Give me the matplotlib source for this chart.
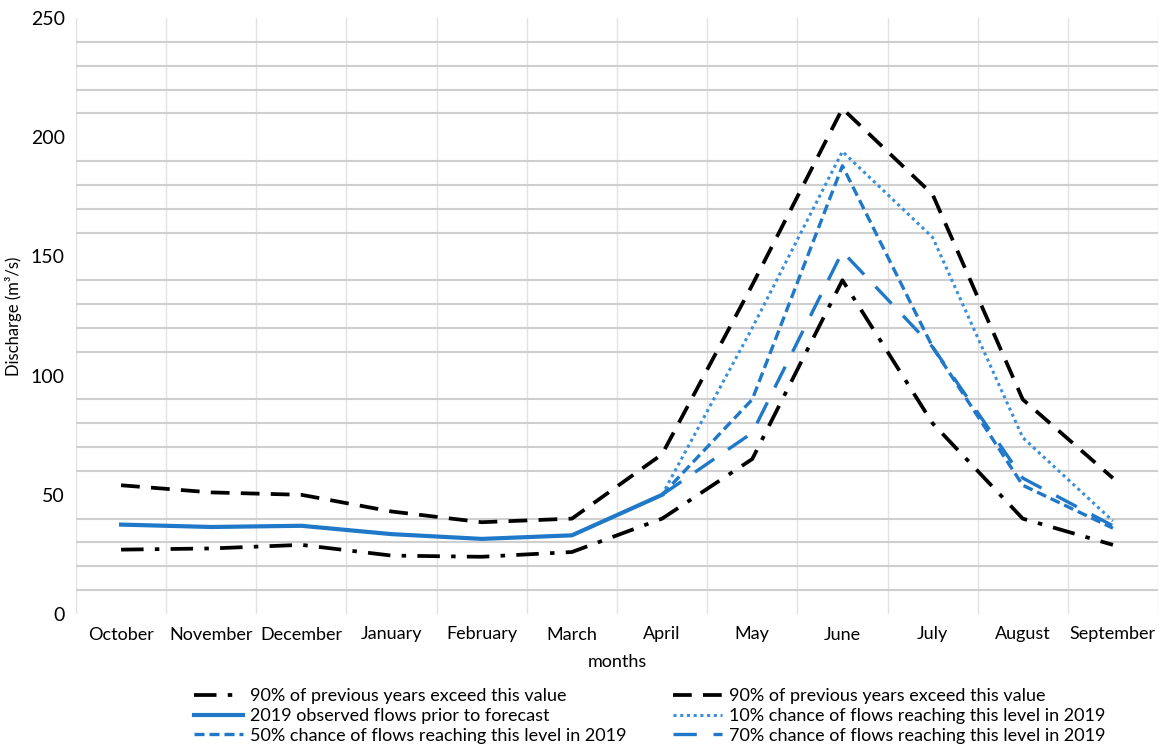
import matplotlib
matplotlib.use("Agg")
from matplotlib import pyplot as plt
import numpy as np

plt.rcParams['font.family'] = ['Lato', 'DejaVu Sans']

months = ["October", "November", "December", "January", "February", "March",
          "April", "May", "June", "July", "August", "September"]

# lower bound (dash-dot black) and upper bound (dashed black)
low90 = [27, 27.5, 29, 24.5, 24, 26, 40, 65, 140, 80, 40, 29]
high90 = [54, 51, 50, 43, 38.5, 40, 67, 138, 212, 176, 90, 57]
# observed 2019, October..April
observed = [37.5, 36.5, 37, 33.5, 31.5, 33, 50]
# forecasts, April..September
p10 = [50, 120, 194, 158, 74, 39]
p50 = [50, 90, 188, 112, 54, 36]
p70 = [50, 76, 152, 112, 57, 37]

blue = "#1f78c8"
x = np.arange(len(months))
xf = x[6:]

fig = plt.figure(figsize=(11.59, 7.5), dpi=100)
ax = fig.add_axes([76/1159, 1-614/750, (1158-76)/1159, (614-18)/750])

ax.plot(x, low90, color="black", lw=2.7, dashes=(6, 3, 1.2, 3),
        label="90% of previous years exceed this value")
ax.plot(x[:7], observed, color=blue, lw=3.0,
        label="2019 observed flows prior to forecast")
ax.plot(xf, p50, color=blue, lw=2.4, dashes=(3, 1.5),
        label="50% chance of flows reaching this level in 2019")
ax.plot(x, high90, color="black", lw=2.7, dashes=(5, 3),
        label="90% of previous years exceed this value")
ax.plot(xf, p10, color="#3a8fd8", lw=2.2, dashes=(1, 1.2),
        label="10% chance of flows reaching this level in 2019")
ax.plot(xf, p70, color=blue, lw=2.4, dashes=(7, 5),
        label="70% chance of flows reaching this level in 2019")

ax.set_xlim(-0.5, 11.5)
ax.set_ylim(0, 250)
ax.set_xticks(x)
ax.set_xticklabels(months)
ax.set_yticks(np.arange(0, 251, 50))
ax.set_yticks(np.arange(0, 251, 10), minor=True)
ax.set_xticks(np.arange(-0.5, 12, 1), minor=True)
ax.tick_params(axis="both", which="both", length=0, labelsize=13)
ax.tick_params(axis="y", labelsize=14)
ax.tick_params(axis="x", pad=9)
ax.tick_params(axis="y", pad=8)
ax.grid(True, axis="y", which="minor", color="#cfcfcf", lw=1.5)
ax.grid(True, axis="x", which="minor", color="#e2e2e2", lw=1.0)
ax.set_axisbelow(True)
for s in ax.spines.values():
    s.set_visible(False)

ax.set_ylabel("Discharge (m³/s)", fontsize=12)
ax.yaxis.set_label_coords(-(76-22)/1082, 0.5)
ax.set_xlabel("months", fontsize=13, labelpad=8)

fig.legend(loc="center", bbox_to_anchor=(650/1159, 1-716/750), ncol=2,
           frameon=False, fontsize=13, handlelength=2.7, handletextpad=0.4,
           columnspacing=2.6, labelspacing=0.2)

fig.savefig("out.png", dpi=100)
